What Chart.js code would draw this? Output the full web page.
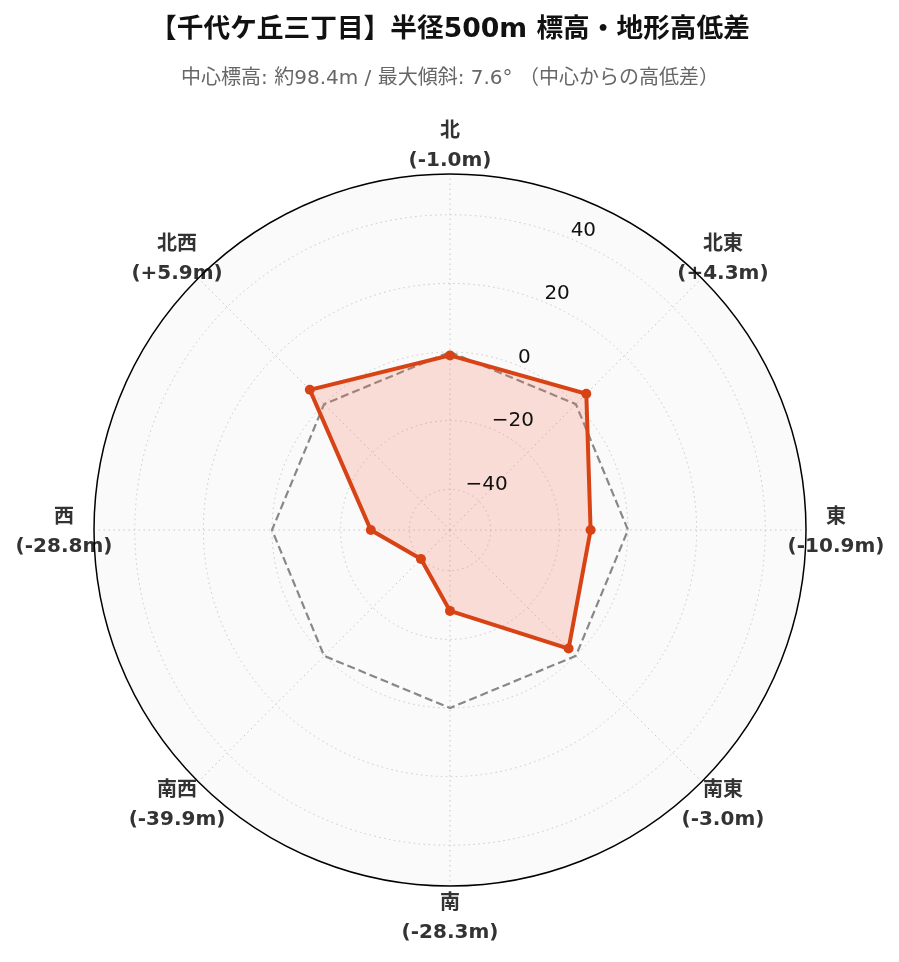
<!DOCTYPE html>
<html>
<head>
<meta charset="utf-8">
<script src="https://cdn.jsdelivr.net/npm/chart.js@4.4.1/dist/chart.umd.min.js"></script>
<style>
    html, body { margin: 0; padding: 0; background: #fff; }
    #wrap { width: 899px; height: 962px; }
</style>
</head>
<body>
<div id="wrap"><canvas id="terrainChart"></canvas></div>
<script>
const directions = ['北', '北東', '東', '南東', '南', '南西', '西', '北西'];
const heightDiffs = [-1.0, 4.3, -10.9, -3.0, -28.3, -39.9, -28.8, 5.9];
const zeroLine = [0, 0, 0, 0, 0, 0, 0, 0];
const radialTicks = [-40, -20, 0, 20, 40];

const maxAbs = Math.max(...heightDiffs.map(Math.abs));
const rLimit = maxAbs * 1.3;
const FONT = '"DejaVu Sans", "Noto Sans CJK JP", sans-serif';

// 外周の円・方位ラベル・目盛りラベルを自前で描く
const polarDecor = {
    id: 'polarDecor',
    afterDraw(chart) {
        const scale = chart.scales.r;
        const ctx = chart.ctx;
        const cx = scale.xCenter;
        const cy = scale.yCenter;

        ctx.save();
        ctx.fillStyle = '#333';
        ctx.font = 'bold 20px ' + FONT;
        ctx.textAlign = 'center';
        ctx.textBaseline = 'middle';
        directions.forEach((name, i) => {
            const v = heightDiffs[i];
            const txt = '(' + (v > 0 ? '+' : '') + v.toFixed(1) + 'm)';
            const pos = scale.getPointPosition(i, scale.drawingArea + 30);
            ctx.fillText(name, pos.x, pos.y - 12.5);
            ctx.fillText(txt, pos.x, pos.y + 17);
        });

        ctx.beginPath();
        ctx.arc(cx, cy, scale.drawingArea, 0, Math.PI * 2);
        ctx.strokeStyle = '#000';
        ctx.lineWidth = 1.5;
        ctx.stroke();

        const theta = Math.PI / 8;
        ctx.fillStyle = '#111';
        ctx.font = '20px ' + FONT;
        ctx.textAlign = 'left';
        ctx.textBaseline = 'bottom';
        radialTicks.forEach(v => {
            const d = scale.getDistanceFromCenterForValue(v);
            const x = cx + Math.sin(theta) * d;
            const y = cy - Math.cos(theta) * d;
            ctx.fillText(String(v).replace('-', '\u2212'), x, y + 2);
        });
        ctx.restore();
    }
};

const ctx = document.getElementById('terrainChart').getContext('2d');
new Chart(ctx, {
    type: 'radar',
    data: {
        labels: directions,
        datasets: [
            {
                label: '高低差',
                data: heightDiffs,
                borderColor: '#d84315',
                backgroundColor: 'rgba(250, 115, 85, 0.22)',
                borderWidth: 4,
                pointRadius: 5,
                pointBackgroundColor: '#d84315',
                pointBorderColor: '#d84315',
                pointBorderWidth: 0,
                fill: 'start',
                order: 1,
            },
            {
                label: '基準 (0m)',
                data: zeroLine,
                borderColor: '#888',
                borderWidth: 2.2,
                borderDash: [8, 4],
                pointRadius: 0,
                fill: false,
                order: 2,
            },
        ],
    },
    options: {
        responsive: true,
        maintainAspectRatio: false,
        animation: false,
        layout: {
            padding: { top: 0, left: 94, right: 93, bottom: 75 },
        },
        plugins: {
            legend: { display: false },
            tooltip: { enabled: false },
            title: {
                display: true,
                text: '【千代ケ丘三丁目】半径500m 標高・地形高低差',
                color: '#111',
                font: { family: FONT, size: 26.7, weight: 'bold' },
                padding: { top: 14, bottom: 14 },
            },
            subtitle: {
                display: true,
                text: '中心標高: 約98.4m / 最大傾斜: 7.6° （中心からの高低差）',
                color: '#666',
                font: { family: FONT, size: 20 },
                padding: { top: 7, bottom: 83 },
            },
        },
        scales: {
            r: {
                min: -rLimit,
                max: rLimit,
                beginAtZero: false,
                backgroundColor: '#fafafa',
                afterBuildTicks: (scale) => {
                    scale.ticks = radialTicks.map(v => ({ value: v }));
                },
                ticks: { display: false },
                pointLabels: { display: false },
                grid: {
                    circular: true,
                    color: '#c8c8c8',
                    lineWidth: 1,
                },
                border: { dash: [1.5, 3.5] },
                angleLines: {
                    color: '#c8c8c8',
                    lineWidth: 1,
                    borderDash: [1.5, 3.5],
                },
            },
        },
    },
    plugins: [polarDecor],
});
</script>
</body>
</html>
